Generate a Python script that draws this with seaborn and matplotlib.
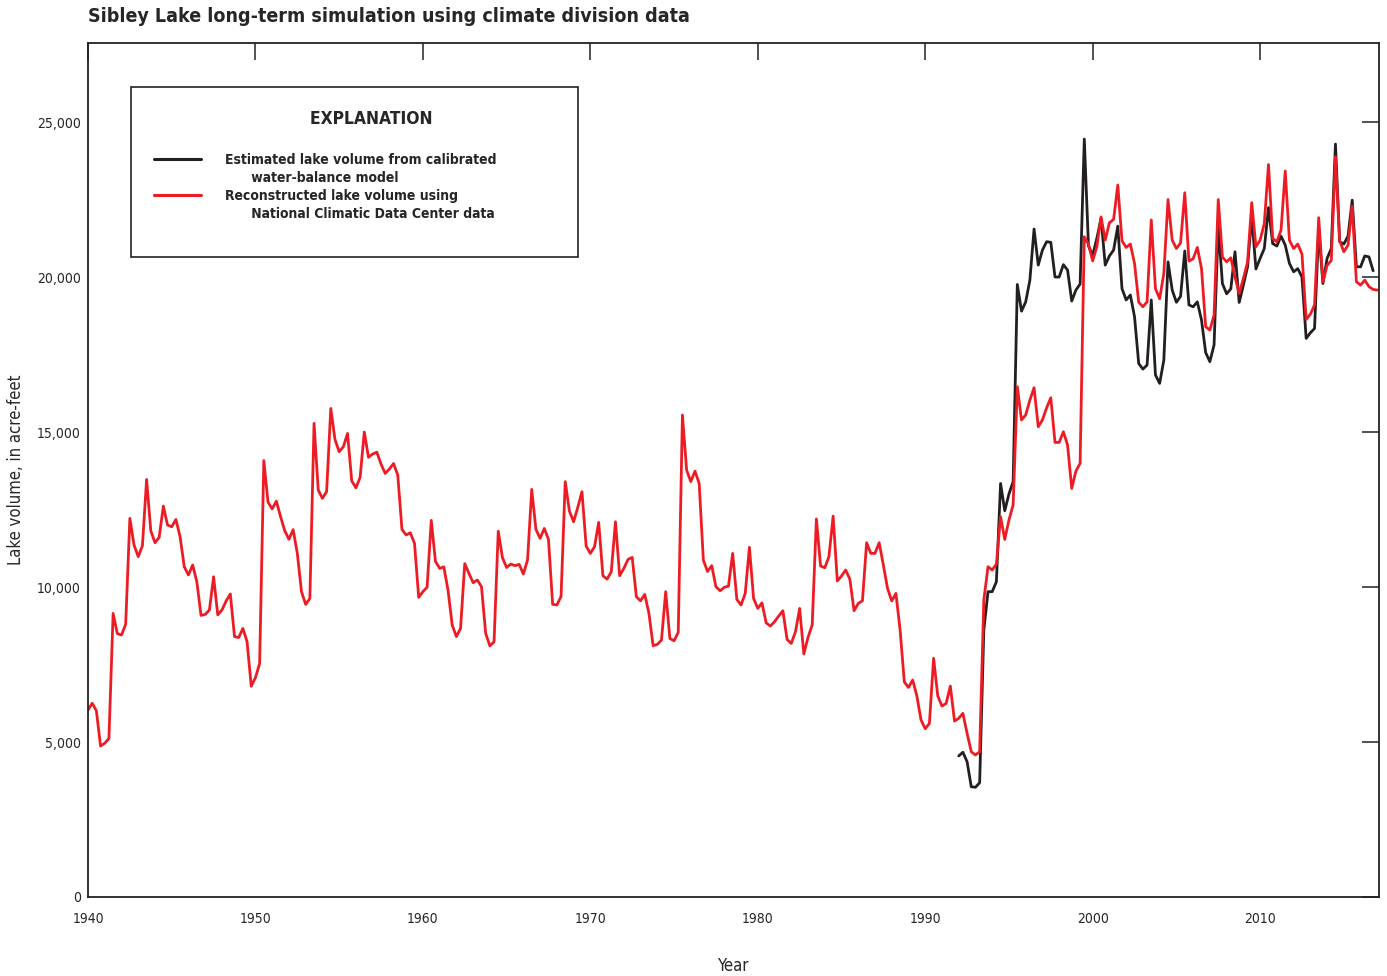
import numpy as np
import pandas as pd
import seaborn as sns
import matplotlib.pyplot as plt
from matplotlib.lines import Line2D
from matplotlib.patches import Rectangle
from matplotlib.ticker import FuncFormatter, MultipleLocator

# quarterly values, acre-feet
start_year = 1940.0
step = 0.25

red_volume = [
    6030, 6250, 6010, 4870, 4960, 5115, 9150, 8500, 8450, 8800,
    12215, 11355, 10980, 11330, 13470, 11815, 11430, 11600, 12610, 12000,
    11945, 12180, 11620, 10650, 10390, 10710, 10170, 9085, 9115, 9260,
    10330, 9100, 9260, 9550, 9775, 8400, 8370, 8665, 8235, 6800,
    7075, 7535, 14080, 12740, 12520, 12770, 12270, 11815, 11540, 11850,
    11090,
    9850, 9440, 9630, 15280, 13130, 12860, 13075, 15760, 14760, 14365,
    14525, 14955, 13425, 13200, 13535, 15000, 14185, 14290, 14350, 13965,
    13665, 13805, 13985, 13610, 11860, 11680, 11750, 11405, 9665, 9850,
    9990, 12150, 10830, 10600, 10650, 9900, 8775, 8400, 8665, 10755,
    10440, 10140, 10225, 10010, 8505, 8100, 8235, 11800, 10950, 10630,
    10740, 10690, 10730, 10420, 10870, 13150, 11860, 11570, 11890, 11535,
    9440, 9420, 9690, 13400, 12450, 12105, 12570, 13075, 11320, 11085,
    11300, 12085, 10365, 10255, 10490, 12105, 10365, 10600, 10890, 10955,
    9685, 9555, 9760, 9150, 8105, 8150, 8290, 9850, 8340, 8265,
    8535, 15550, 13775, 13400, 13740, 13340, 10870, 10500, 10690,
    10010, 9880, 9990, 10030, 11085, 9600, 9420, 9795, 11280, 9630,
    9310, 9490, 8845, 8740, 8880, 9065, 9235, 8310, 8180, 8555,
    9310, 7840, 8375, 8775, 12195, 10680, 10620, 10980, 12290, 10195,
    10355, 10550, 10250, 9235, 9470, 9555, 11430, 11085, 11085, 11430,
    10710, 9955, 9550, 9795, 8615, 6940, 6760, 7000, 6490, 5710,
    5430, 5600,
    7700, 6485, 6160, 6245, 6805, 5675, 5765, 5925, 5280, 4685,
    4580, 4685, 9580, 10655, 10550, 10740, 12265, 11535, 12160, 12650,
    16460, 15390, 15550, 16030, 16430, 15170, 15390, 15780, 16105, 14665,
    14665, 15010, 14580, 13180, 13740, 13990, 21300, 21060, 20520, 20980,
    21940, 21190, 21750, 21860, 22970, 21170, 20955, 21065, 20440, 19185,
    19040, 19200, 21840, 19625, 19300, 20110, 22500, 21190, 20920, 21100,
    22720, 20515, 20590, 20955, 20275, 18395, 18290, 18775, 22500, 20645,
    20490, 20620,
    20000, 19470, 19950, 20490, 22400, 20975, 21190, 21730, 23630, 21240,
    21140, 21515, 23420, 21190, 20920, 21065, 20740, 18630, 18800, 19100,
    21915, 19840, 20375, 20535, 23880, 21170, 20815, 21030, 22290, 19850,
    19740, 19900, 19690, 19600, 19580,
]

black_start_year = 1992.0
black_volume = [
    4550, 4670, 4365, 3555, 3540, 3685, 8615, 9850, 9850, 10170,
    13340, 12460, 13000, 13400,
    19760, 18900, 19200, 19900, 21550, 20385, 20870, 21140, 21120, 20000,
    20000, 20400, 20225, 19225, 19580, 19775, 24450, 21000, 20700, 21250,
    21890, 20385, 20680, 20870, 21640, 19630, 19260, 19420, 18720, 17210,
    17030, 17160, 19260, 16840, 16570, 17320, 20490, 19580, 19185, 19380,
    20840, 19100, 19040, 19200, 18610, 17560, 17270, 17810, 21640, 19785,
    19460, 19620,
    20815, 19180, 19740, 20330, 21960, 20260, 20600, 20920, 22240, 21080,
    21000, 21320, 21030, 20440, 20170, 20270, 20000, 18020, 18200, 18340,
    21560, 19790, 20600, 20920, 24290, 21140, 21065, 21320, 22480, 20330,
    20330, 20680, 20650, 20200,
]

red_df = pd.DataFrame({
    "year": start_year + step * np.arange(len(red_volume)),
    "volume": red_volume,
})
black_df = pd.DataFrame({
    "year": black_start_year + step * np.arange(len(black_volume)),
    "volume": black_volume,
})

RED = "#ED1C24"
BLACK = "#231F20"

sns.set_style("white")
plt.rcParams['font.family'] = ['DejaVu Sans Condensed', 'DejaVu Sans']
plt.rcParams['font.stretch'] = 'condensed'

fig = plt.figure(figsize=(13.87, 9.76), dpi=100)
ax = fig.add_axes([88 / 1387, 1 - 897 / 976, 1291 / 1387, 854 / 976])

sns.lineplot(data=black_df, x="year", y="volume", color=BLACK, linewidth=2.0, ax=ax)
sns.lineplot(data=red_df, x="year", y="volume", color=RED, linewidth=2.0, ax=ax)

ax.set_xlim(1940, 2017.1)
ax.set_ylim(0, 27550)
ax.xaxis.set_major_locator(MultipleLocator(10))
ax.yaxis.set_major_locator(MultipleLocator(5000))
ax.yaxis.set_major_formatter(FuncFormatter(lambda v, p: f"{int(v):,}"))

for s in ax.spines.values():
    s.set_color("#222222")
    s.set_linewidth(1.3)
ax.tick_params(axis="both", which="major", direction="in", length=12, width=1.2,
               color="#333333", top=True, right=True, labelsize=10)
ax.tick_params(axis="x", pad=11)
ax.tick_params(axis="y", pad=5)

ax.set_xlabel("Year", fontsize=12, labelpad=22)
ax.set_ylabel("Lake volume, in acre-feet", fontsize=12, labelpad=9)

fig.text(88 / 1387, 1 - 17 / 976, "Sibley Lake long-term simulation using climate division data",
         fontsize=14, fontweight="bold", ha="left", va="center")

# explanation box
box = (0.0333, 0.7494, 0.3463, 0.1991)
ax.add_patch(Rectangle(box[:2], box[2], box[3], transform=ax.transAxes, fill=False,
                       edgecolor="#222222", linewidth=1.2, zorder=5))
handles = [
    Line2D([], [], color=BLACK, linewidth=2.2),
    Line2D([], [], color="none"),
    Line2D([], [], color=RED, linewidth=2.2),
    Line2D([], [], color="none"),
]
labels = [
    "Estimated lake volume from calibrated",
    "      water-balance model",
    "Reconstructed lake volume using",
    "      National Climatic Data Center data",
]
leg = ax.legend(handles, labels, title="      EXPLANATION\n", loc="upper left",
                bbox_to_anchor=box, mode="expand", borderaxespad=0, borderpad=1.65,
                frameon=False, handlelength=3.4, handletextpad=1.75, labelspacing=0.3,
                prop={"size": 10, "weight": "bold"},
                title_fontproperties={"size": 12.5, "weight": "bold"})

fig.savefig("out.png", dpi=100)
